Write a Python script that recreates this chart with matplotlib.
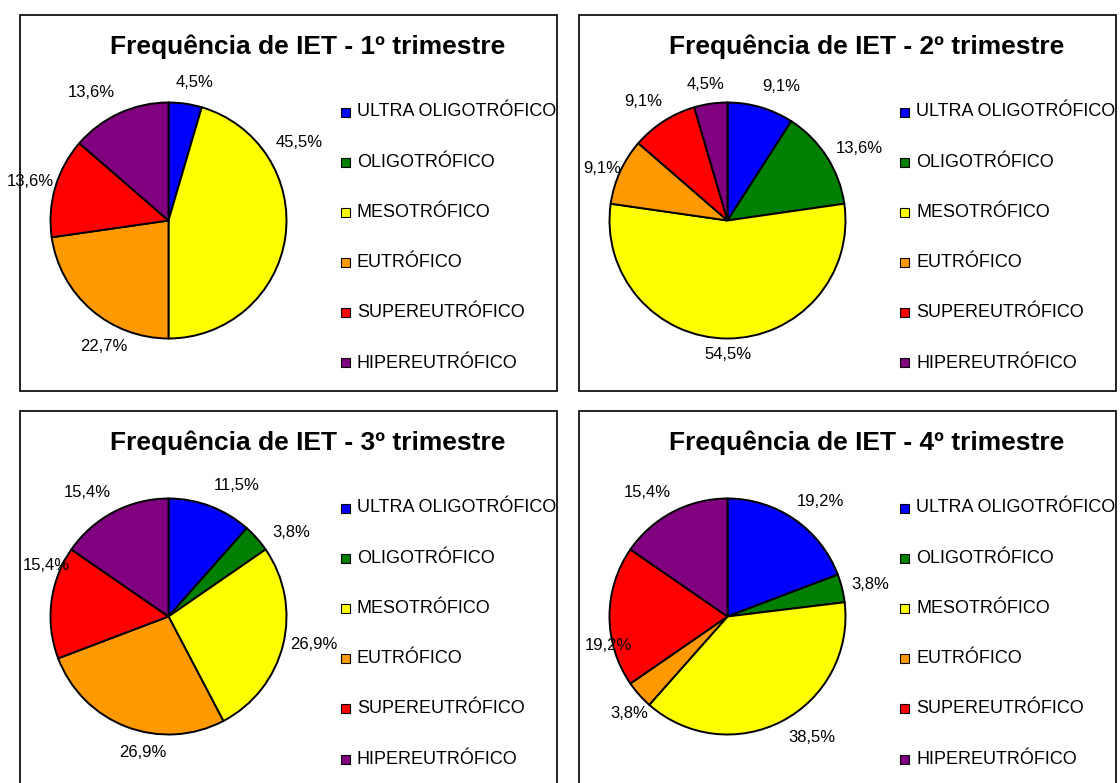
import numpy as np
import matplotlib.pyplot as plt
from matplotlib.patches import Rectangle

plt.rcParams['font.family'] = ['Liberation Sans', 'DejaVu Sans']

# IET classes and their colours
categories = ["ULTRA OLIGOTRÓFICO", "OLIGOTRÓFICO", "MESOTRÓFICO",
              "EUTRÓFICO", "SUPEREUTRÓFICO", "HIPEREUTRÓFICO"]
colors = ["#0000FF", "#008000", "#FFFF00", "#FF9900", "#FF0000", "#800080"]

titles = ["Frequência de IET - 1º trimestre", "Frequência de IET - 2º trimestre",
          "Frequência de IET - 3º trimestre", "Frequência de IET - 4º trimestre"]

# number of samples in each class per quarter
counts_t1 = [1, 0, 10, 5, 3, 3]
counts_t2 = [2, 3, 12, 2, 2, 1]
counts_t3 = [3, 1, 7, 7, 4, 4]
counts_t4 = [5, 1, 10, 1, 5, 4]
all_counts = [counts_t1, counts_t2, counts_t3, counts_t4]

# small hand tweaks of the label positions (pixels, y down), like the original
label_nudge = [
    [(5, -5), (0, 0), (-15, -97), (32, 25), (3, -1), (-16, -6)],
    [(12, -5), (8, 0), (0, 0), (8, 4), (-5, -6), (-1, -3)],
    [(16, -6), (13, 5), (3, -4), (26, 11), (24, -35), (-13, -5)],
    [(9, -5), (0, 0), (16, 2), (12, 8), (28, 29), (-12, -5)],
]

W, H = 1120, 783
fig = plt.figure(figsize=(W / 100, H / 100), dpi=100)


def fx(x):
    return x / W


def fy(y):
    return 1 - y / H


panels = [(20, 15), (579, 15), (20, 411), (579, 411)]
panel_w, panel_h = 537, 376
R = 118
px2pt = 72 / 100

for k, ((px, py), title, counts) in enumerate(zip(panels, titles, all_counts)):
    fig.patches.append(Rectangle((fx(px), fy(py + panel_h)), panel_w / W, panel_h / H,
                                 transform=fig.transFigure, fill=False,
                                 edgecolor='#111111', linewidth=1.3))
    fig.text(fx(px + 288), fy(py + 39), title, ha='center', va='baseline',
             fontsize=19, fontweight='bold')

    cx, cy = px + 148.5, py + 205.5
    ax = fig.add_axes([fx(cx - R), fy(cy + R), 2 * R / W, 2 * R / H])
    ax.set_zorder(3)
    idx = [i for i, c in enumerate(counts) if c > 0]
    vals = [counts[i] for i in idx]
    wedges, _ = ax.pie(vals, colors=[colors[i] for i in idx], startangle=90,
                       counterclock=False,
                       wedgeprops=dict(edgecolor='black', linewidth=1.4))
    ax.set_xlim(-1, 1)
    ax.set_ylim(-1, 1)
    total = sum(counts)
    for w, v, i in zip(wedges, vals, idx):
        ang = np.deg2rad((w.theta1 + w.theta2) / 2)
        ux, uy = np.cos(ang), np.sin(ang)
        dx, dy = label_nudge[k][i]
        ax.annotate(f"{100 * v / total:.1f}%".replace('.', ','),
                    xy=(0, 0),
                    xytext=((147 * ux + dx) * px2pt, (134 * uy - dy) * px2pt),
                    textcoords='offset points', ha='center', va='center',
                    fontsize=12, annotation_clip=False)

    # legend
    for i, (cat, col) in enumerate(zip(categories, colors)):
        y = py + 97 + i * 50.2
        fig.patches.append(Rectangle((fx(px + 321), fy(y + 4.5)), 9 / W, 9 / H,
                                     transform=fig.transFigure, facecolor=col,
                                     edgecolor='black', linewidth=0.8))
        fig.text(fx(px + 337), fy(y), cat, ha='left', va='center', fontsize=13)

fig.savefig("out.png", dpi=100)
